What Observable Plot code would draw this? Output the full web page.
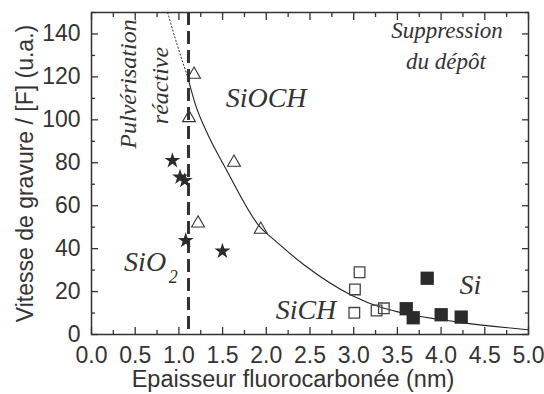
<!DOCTYPE html>
<html>
<head>
<meta charset="utf-8">
<script src="https://cdn.jsdelivr.net/npm/d3@7"></script>
<script src="https://cdn.jsdelivr.net/npm/@observablehq/plot@0.6"></script>
<style>
  html, body { margin: 0; padding: 0; background: #fff; }
</style>
</head>
<body>
<div id="chart"></div>
<script>
// SiO2 (filled stars)
const sio2X = [0.926, 1.013, 1.067, 1.078, 1.498];
const sio2Y = [81.0, 73.3, 71.7, 43.8, 38.8];
// SiOCH (open triangles)
const siochX = [1.173, 1.116, 1.630, 1.219, 1.936];
const siochY = [121.1, 100.9, 80.1, 51.8, 48.9];
// SiCH (open squares)
const sichX = [3.067, 3.014, 3.007, 3.262, 3.345];
const sichY = [29.0, 21.0, 10.1, 11.2, 12.2];
// Si (filled squares)
const siX = [3.841, 3.601, 3.681, 4.001, 4.230];
const siY = [26.2, 12.0, 7.8, 9.2, 8.1];
// fitted curve (solid part)
const fitX = [1.10, 1.19, 1.31, 1.54, 1.94, 2.05, 2.43, 2.98, 3.31, 3.52, 4.18, 5.00];
const fitY = [120, 107, 95, 77, 49.5, 45.5, 32.5, 18.2, 12.7, 10.4, 5.9, 2.2];
// extrapolated (dotted) part
const extX = [0.87, 0.98, 1.10];
const extY = [150, 135, 120];
// vertical boundary
const boundaryX = [1.11];
// ticks
const xMajor = [0, 0.5, 1, 1.5, 2, 2.5, 3, 3.5, 4, 4.5, 5];
const xMinor = [0.25, 0.75, 1.25, 1.75, 2.25, 2.75, 3.25, 3.75, 4.25, 4.75];
const yMajor = [0, 20, 40, 60, 80, 100, 120, 140];
const yMinor = [10, 30, 50, 70, 90, 110, 130, 150];

const zip = (xs, ys) => xs.map((x, i) => ({x, y: ys[i]}));
const ink = "#333";
const serif = "'Liberation Serif', 'Times New Roman', serif";
const sans = "'Liberation Sans', Arial, sans-serif";

const chart = Plot.plot({
  width: 544,
  height: 394,
  marginLeft: 91,
  marginRight: 16,
  marginTop: 12,
  marginBottom: 60,
  x: {domain: [0, 5]},
  y: {domain: [0, 150]},
  style: {fontFamily: sans, color: ink, background: "#fff"},
  marks: [
    // axes (inward ticks)
    Plot.axisX({ticks: xMajor, anchor: "bottom", tickSize: -7, tickPadding: 19, strokeWidth: 1.3, fontSize: 23, fontFamily: sans, tickFormat: d => d.toFixed(1), label: null}),
    Plot.axisX({ticks: xMinor, anchor: "bottom", tickSize: -4, strokeWidth: 1.3, tickFormat: () => "", label: null}),
    Plot.axisX({ticks: xMajor, anchor: "top", tickSize: -7, strokeWidth: 1.3, tickFormat: () => "", label: null}),
    Plot.axisX({ticks: xMinor, anchor: "top", tickSize: -4, strokeWidth: 1.3, tickFormat: () => "", label: null}),
    Plot.axisY({ticks: yMajor, anchor: "left", tickSize: -7, tickPadding: 18, strokeWidth: 1.3, fontSize: 23, fontFamily: sans, tickFormat: d => String(d), label: null}),
    Plot.axisY({ticks: yMinor, anchor: "left", tickSize: -4, strokeWidth: 1.3, tickFormat: () => "", label: null}),
    Plot.axisY({ticks: yMajor, anchor: "right", tickSize: -7, strokeWidth: 1.3, tickFormat: () => "", label: null}),
    Plot.axisY({ticks: yMinor, anchor: "right", tickSize: -4, strokeWidth: 1.3, tickFormat: () => "", label: null}),
    Plot.frame({stroke: ink, strokeWidth: 1.5}),
    // axis titles
    Plot.text(["Epaisseur fluorocarbonée (nm)"], {frameAnchor: "bottom", textAnchor: "middle", dx: -17, dy: 45, lineAnchor: "middle", fontSize: 23.5, fontFamily: sans, fill: ink}),
    Plot.text(["Vitesse de gravure / [F] (u.a.)"], {frameAnchor: "left", textAnchor: "middle", dx: -66, rotate: -90, lineAnchor: "middle", fontSize: 23, fontFamily: sans, fill: ink}),
    // curves
    Plot.line(zip(extX, extY), {x: "x", y: "y", stroke: "#222", strokeWidth: 1, strokeDasharray: "1.2,2.4", curve: "monotone-x", clip: true}),
    Plot.line(zip(fitX, fitY), {x: "x", y: "y", stroke: "#222", strokeWidth: 1.1, curve: "monotone-x", clip: true}),
    // boundary
    Plot.ruleX(boundaryX, {stroke: ink, strokeWidth: 3, strokeDasharray: "13,6"}),
    // points
    Plot.dot(zip(siochX, siochY), {x: "x", y: "y", symbol: "triangle", r: 4.8, stroke: ink, strokeWidth: 1.1, fill: "none"}),
    Plot.dot(zip(sichX, sichY), {x: "x", y: "y", symbol: "square", r: 6, stroke: "#444", strokeWidth: 1.3, fill: "none"}),
    Plot.dot(zip(siX, siY), {x: "x", y: "y", symbol: "square", r: 7.5, fill: "#2b2b2b", stroke: "none"}),
    Plot.dot(zip(sio2X, sio2Y), {x: "x", y: "y", symbol: "star", r: 5, fill: "#2b2b2b", stroke: "none"}),
    // annotations
    Plot.text(["Pulvérisation"], {x: 0.426, y: 116.7, rotate: -90, textAnchor: "middle", lineAnchor: "middle", fontSize: 24, fontStyle: "italic", fontFamily: serif, fill: ink}),
    Plot.text(["réactive"], {x: 0.792, y: 116, rotate: -90, textAnchor: "middle", lineAnchor: "middle", fontSize: 24, fontStyle: "italic", fontFamily: serif, fill: ink}),
    Plot.text(["SiOCH"], {x: 1.535, y: 105.9, textAnchor: "start", lineAnchor: "bottom", fontSize: 28, fontStyle: "italic", fontFamily: serif, fill: ink}),
    Plot.text(["SiO"], {x: 0.373, y: 29.8, textAnchor: "start", lineAnchor: "bottom", fontSize: 28, fontStyle: "italic", fontFamily: serif, fill: ink}),
    Plot.text(["2"], {x: 0.884, y: 24.2, textAnchor: "start", lineAnchor: "bottom", fontSize: 18, fontStyle: "italic", fontFamily: serif, fill: ink}),
    Plot.text(["SiCH"], {x: 2.107, y: 7.3, textAnchor: "start", lineAnchor: "bottom", fontSize: 28, fontStyle: "italic", fontFamily: serif, fill: ink}),
    Plot.text(["Si"], {x: 4.21, y: 19, textAnchor: "start", lineAnchor: "bottom", fontSize: 28, fontStyle: "italic", fontFamily: serif, fill: ink}),
    Plot.text(["Suppression"], {x: 4.068, y: 137.9, textAnchor: "middle", lineAnchor: "bottom", fontSize: 23, fontStyle: "italic", fontFamily: serif, fill: ink}),
    Plot.text(["du dépôt"], {x: 4.056, y: 123.9, textAnchor: "middle", lineAnchor: "bottom", fontSize: 23, fontStyle: "italic", fontFamily: serif, fill: ink})
  ]
});
document.getElementById("chart").appendChild(chart);
</script>
</body>
</html>
